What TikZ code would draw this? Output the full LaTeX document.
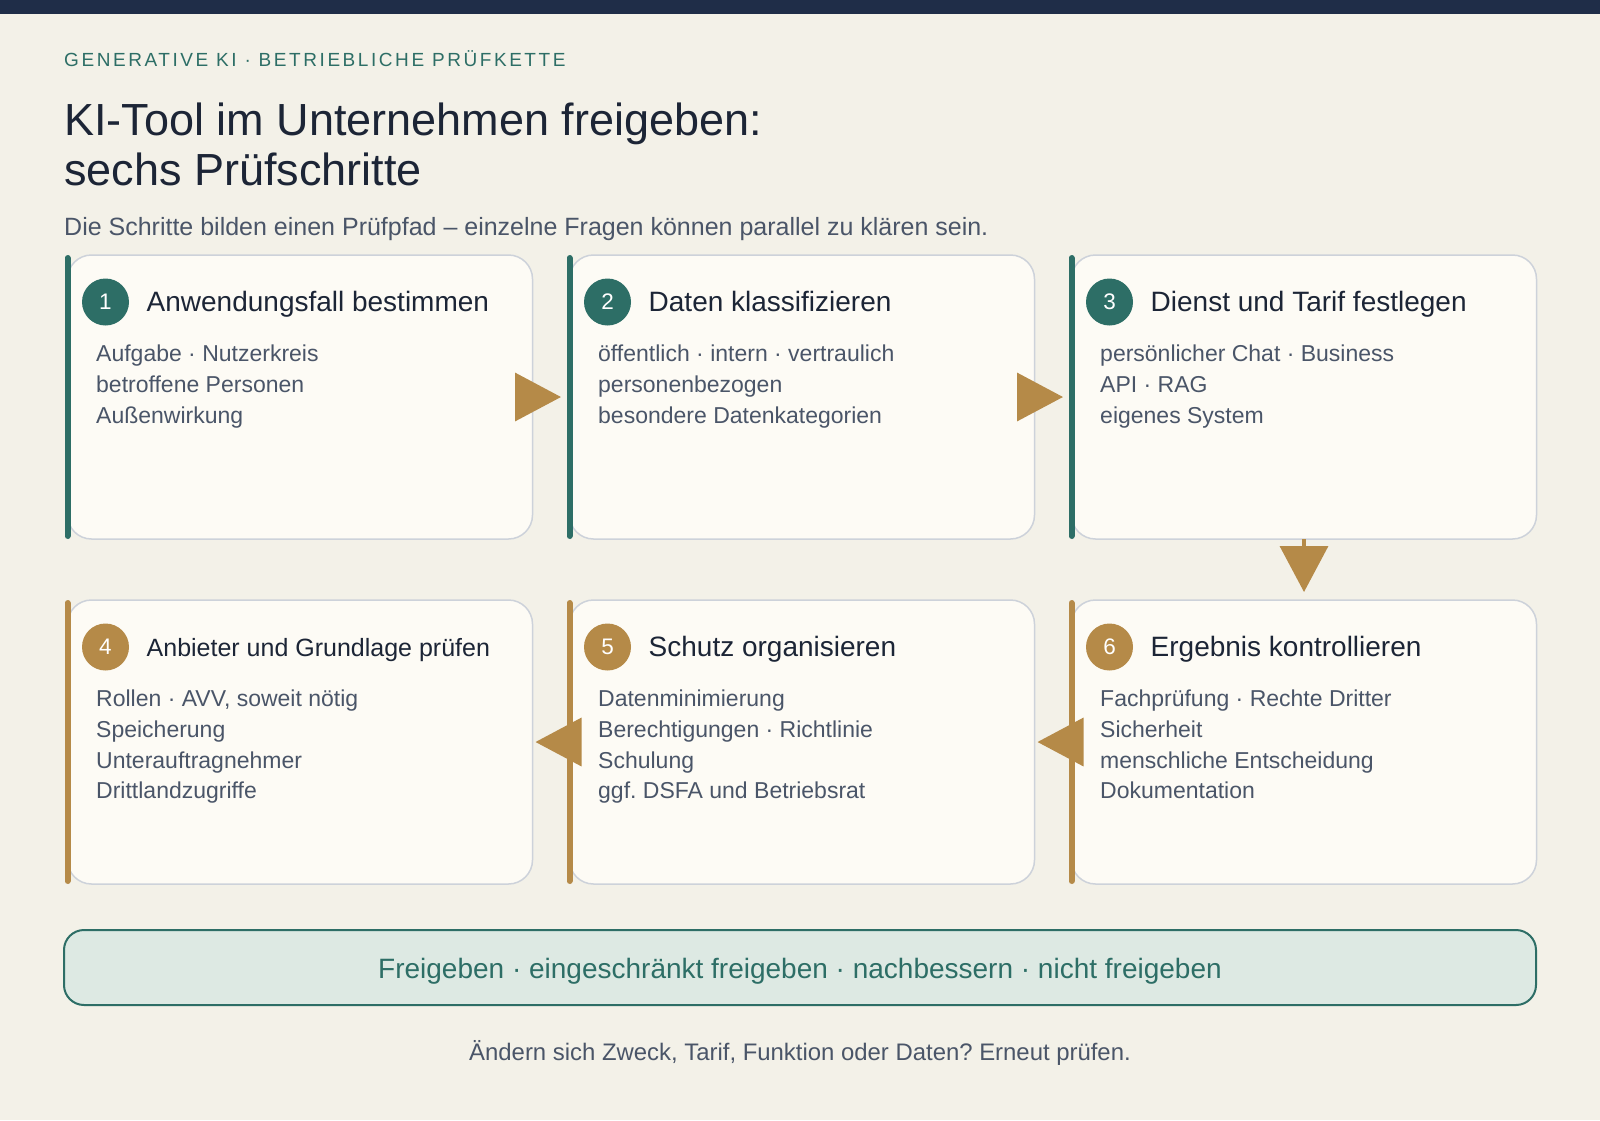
\documentclass[tikz,border=0pt]{standalone}
\usepackage{fontspec}
\setmainfont{Liberation Sans}
\usetikzlibrary{arrows.meta}
\frenchspacing

\definecolor{bgcream}{HTML}{F3F1E8}
\definecolor{navy}{HTML}{1F2D48}
\definecolor{teal}{HTML}{2D6E66}
\definecolor{gold}{HTML}{B58A48}
\definecolor{cardfill}{HTML}{FDFBF5}
\definecolor{cardline}{HTML}{CDD2DA}
\definecolor{headtxt}{HTML}{1C2536}
\definecolor{bodytxt}{HTML}{4A5568}
\definecolor{decfill}{HTML}{DDE9E3}

\tikzset{
  card/.style={rectangle, rounded corners=24pt, draw=cardline, line width=1.5pt, fill=cardfill,
    minimum width=465pt, minimum height=284pt, anchor=north west, inner sep=0pt, outer sep=0pt},
  accent/.style={line width=6pt, line cap=round, shorten <=3pt, shorten >=3pt},
  num/.style={circle, minimum size=47pt, inner sep=0pt, text=white, font=\fontsize{22.5}{22.5}\selectfont},
  head/.style={anchor=base west, inner sep=0pt, text=headtxt, font=\fontsize{28}{33}\selectfont},
  body/.style={anchor=north west, inner sep=0pt, align=left, text=bodytxt,
    font=\fontsize{23}{30.7}\selectfont, execute at begin node=\strut},
  flow/.style={draw=gold, line width=3.5pt, -{Triangle[length=46pt, width=48pt]}},
}

\begin{document}
\begin{tikzpicture}[x=1pt, y=-1pt]
    \useasboundingbox (0,0) rectangle (1600,1120);
    \fill[bgcream] (0,0) rectangle (1600,1120);
    \fill[navy] (0,0) rectangle (1600,14);

    \node[anchor=base west, inner sep=0pt, text=teal, font=\fontsize{19}{19}\selectfont\addfontfeatures{LetterSpace=13.5}] at (64, 66) (kicker) {GENERATIVE KI · BETRIEBLICHE PRÜFKETTE};
    \node[anchor=north west, inner sep=0pt, align=left, text=headtxt, font=\fontsize{45}{50}\selectfont] at (64, 135-35) (title) {\strut KI-Tool im Unternehmen freigeben:\\sechs Prüfschritte};
    \node[anchor=base west, inner sep=0pt, text=bodytxt, font=\fontsize{25}{30}\selectfont] at (64, 235) (lead) {Die Schritte bilden einen Prüfpfad – einzelne Fragen können parallel zu klären sein.};

    \node[card] at (67.5, 255) (step_1) {};
    \draw[accent, teal] (step_1.north west) -- (step_1.south west);
    \node[num, fill=teal] at (105.5, 302) (num_1) {1};
    \node[head] at (146.5, 311) (head_1) {Anwendungsfall bestimmen};
    \node[body] at (96, 345) (body_1) {Aufgabe · Nutzerkreis\\betroffene Personen\\Außenwirkung};

    \node[card] at (569.5, 255) (step_2) {};
    \draw[accent, teal] (step_2.north west) -- (step_2.south west);
    \node[num, fill=teal] at (607.5, 302) (num_2) {2};
    \node[head] at (648.5, 311) (head_2) {Daten klassifizieren};
    \node[body] at (598, 345) (body_2) {öffentlich · intern · vertraulich\\personenbezogen\\besondere Datenkategorien};

    \node[card] at (1071.5, 255) (step_3) {};
    \draw[accent, teal] (step_3.north west) -- (step_3.south west);
    \node[num, fill=teal] at (1109.5, 302) (num_3) {3};
    \node[head] at (1150.5, 311) (head_3) {Dienst und Tarif festlegen};
    \node[body] at (1100, 345) (body_3) {persönlicher Chat · Business\\API · RAG\\eigenes System};

    \node[card] at (67.5, 600) (step_4) {};
    \draw[accent, gold] (step_4.north west) -- (step_4.south west);
    \node[num, fill=gold] at (105.5, 647) (num_4) {4};
    \node[head, font=\fontsize{25}{30}\selectfont] at (146.5, 656) (head_4) {Anbieter und Grundlage prüfen};
    \node[body] at (96, 690) (body_4) {Rollen · AVV, soweit nötig\\Speicherung\\Unterauftragnehmer\\Drittlandzugriffe};

    \node[card] at (569.5, 600) (step_5) {};
    \draw[accent, gold] (step_5.north west) -- (step_5.south west);
    \node[num, fill=gold] at (607.5, 647) (num_5) {5};
    \node[head] at (648.5, 656) (head_5) {Schutz organisieren};
    \node[body] at (598, 690) (body_5) {Datenminimierung\\Berechtigungen · Richtlinie\\Schulung\\ggf. DSFA und Betriebsrat};

    \node[card] at (1071.5, 600) (step_6) {};
    \draw[accent, gold] (step_6.north west) -- (step_6.south west);
    \node[num, fill=gold] at (1109.5, 647) (num_6) {6};
    \node[head] at (1150.5, 656) (head_6) {Ergebnis kontrollieren};
    \node[body] at (1100, 690) (body_6) {Fachprüfung · Rechte Dritter\\Sicherheit\\menschliche Entscheidung\\Dokumentation};

    \draw[flow, shorten >=8.5pt] (step_1.east) -- (step_2.west);
    \draw[flow, shorten >=8.5pt] (step_2.east) -- (step_3.west);
    \draw[flow, shorten >=8pt] (step_3.south) -- (step_6.north);
    \draw[flow, shorten >=3pt] (step_6.west) -- (step_5.east);
    \draw[flow, shorten >=3pt] (step_5.west) -- (step_4.east);

    \node[rectangle, rounded corners=20pt, draw=teal, line width=2pt, fill=decfill, minimum width=1472pt, minimum height=75pt] at (800, 967.5) (decision) {};
    \node[anchor=base, inner sep=0pt, text=teal, font=\fontsize{28}{32}\selectfont] at (decision.center |- 0,978) (verdict) {Freigeben · eingeschränkt freigeben · nachbessern · nicht freigeben};
    \node[anchor=base, inner sep=0pt, text=bodytxt, font=\fontsize{23.9}{28}\selectfont] at (800, 1060) (footer) {Ändern sich Zweck, Tarif, Funktion oder Daten? Erneut prüfen.};
\end{tikzpicture}
\end{document}
